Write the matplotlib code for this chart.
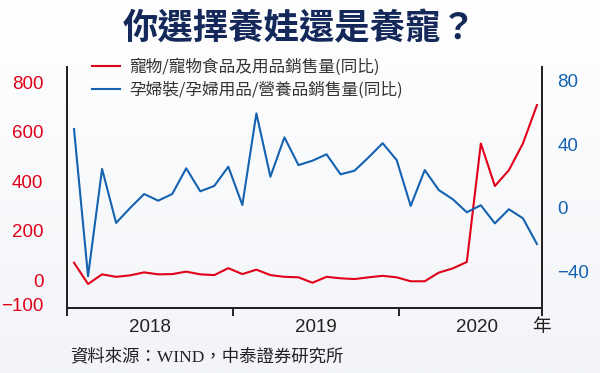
import numpy as np
import matplotlib
matplotlib.use("Agg")
import matplotlib.pyplot as plt
from matplotlib.ticker import FixedLocator

plt.rcParams['font.family'] = ['Liberation Sans', 'Noto Sans CJK TC', 'DejaVu Sans']

# monthly YoY growth (%)
pet_sales = [70, -16, 23, 13, 19, 31, 23, 24, 34, 23, 20, 48,
             24, 42, 20, 13, 11, -11, 13, 7, 4, 11, 17, 11,
             -5, -5, 30, 47, 73, 552, 380, 444, 552, 707]
baby_sales = [49.7, -43, 24.6, -9.4, 0, 8.8, 4.6, 8.8, 25, 10.5, 13.9, 26,
              1.9, 59.6, 19.7, 44.5, 27, 29.8, 33.8, 21.2, 23.5, 31.9, 40.8, 30.2,
              1.3, 23.9, 11.3, 5.5, -2.7, 1.7, -9.7, -0.8, -6.5, -22.7]
pet_label = "寵物/寵物食品及用品銷售量(同比)"
baby_label = "孕婦裝/孕婦用品/營養品銷售量(同比)"
year_labels = ["2018", "2019", "2020", "年"]
year_pos = [5.42, 17.25, 28.72, 33.29]
year_breaks = [-0.5, 11.33, 23.16, 33.36]
left_ticks = [-100, 0, 200, 400, 600, 800]
right_ticks = [-40, 0, 40, 80]

RED = "#e1001a"
BLUE = "#1462b0"
INK = "#222222"

fig = plt.figure(figsize=(6, 3.73), dpi=100)

# soft white -> grey-blue background
bg = fig.add_axes([0, 0, 1, 1], zorder=-10)
grad = np.linspace(0, 1, 256).reshape(-1, 1)
top_c = np.array([1.0, 1.0, 1.0])
bot_c = np.array([0xf2, 0xf4, 0xf8]) / 255
img = top_c + (bot_c - top_c) * grad[:, :, None]
bg.imshow(img, aspect="auto", extent=[0, 1, 0, 1])
bg.axis("off")

ax = fig.add_axes([67 / 600, 1 - 308 / 373, 475 / 600, 241 / 373])
ax.patch.set_alpha(0)
ax2 = ax.twinx()

x = np.arange(len(pet_sales))
l1, = ax.plot(x, pet_sales, color=RED, lw=1.5, zorder=3)
l2, = ax2.plot(x, baby_sales, color=BLUE, lw=1.5, zorder=2)

ax.set_xlim(year_breaks[0], year_breaks[-1])
ax.set_ylim(-113, 861)
ax2.set_ylim(-63, 88.8)

for a in (ax, ax2):
    a.spines['top'].set_visible(False)
    for s in a.spines.values():
        s.set_color(INK)
        s.set_linewidth(1.4)

ax.set_yticks(left_ticks)
ax.set_yticklabels([str(v).replace('-', '\u2212') for v in left_ticks])
ax.tick_params(axis='y', length=0, pad=17, labelsize=13.5, labelcolor=RED)
ax2.set_yticks(right_ticks)
ax2.set_yticklabels([str(v).replace('-', '\u2212') for v in right_ticks])
ax2.tick_params(axis='y', length=0, pad=11, labelsize=13.5, labelcolor=BLUE)

ax.xaxis.set_major_locator(FixedLocator(year_breaks))
ax.xaxis.set_minor_locator(FixedLocator(year_pos))
ax.tick_params(axis='x', which='major', direction='out', length=5.5, width=1.4,
               color=INK, labelbottom=False)
ax.tick_params(axis='x', which='minor', length=0, pad=8, labelsize=13.5, labelcolor=INK)
ax.set_xticklabels(year_labels, minor=True)

fig.legend([l1, l2], [pet_label, baby_label], loc='upper left',
           bbox_to_anchor=(92 / 600, 1 - 58 / 373), frameon=False,
           handlelength=1.65, handletextpad=0.6, labelspacing=0.4,
           labelcolor="#333333", borderaxespad=0, borderpad=0,
           prop={'family': ['Noto Sans CJK TC'], 'size': 12})

fig.text(0.5, 1 - 29 / 373, "你選擇養娃還是養寵？", ha='center', va='center',
         fontsize=25.5, fontweight='bold', color="#14285a",
         family=['Noto Sans CJK TC'])

fig.text(70 / 600, 1 - 357 / 373, "資料來源：WIND，中泰證券研究所", ha='left', va='center',
         fontsize=12.5, color=INK, family=['Liberation Serif', 'Noto Sans CJK TC'])

fig.savefig("out.png", dpi=100)
